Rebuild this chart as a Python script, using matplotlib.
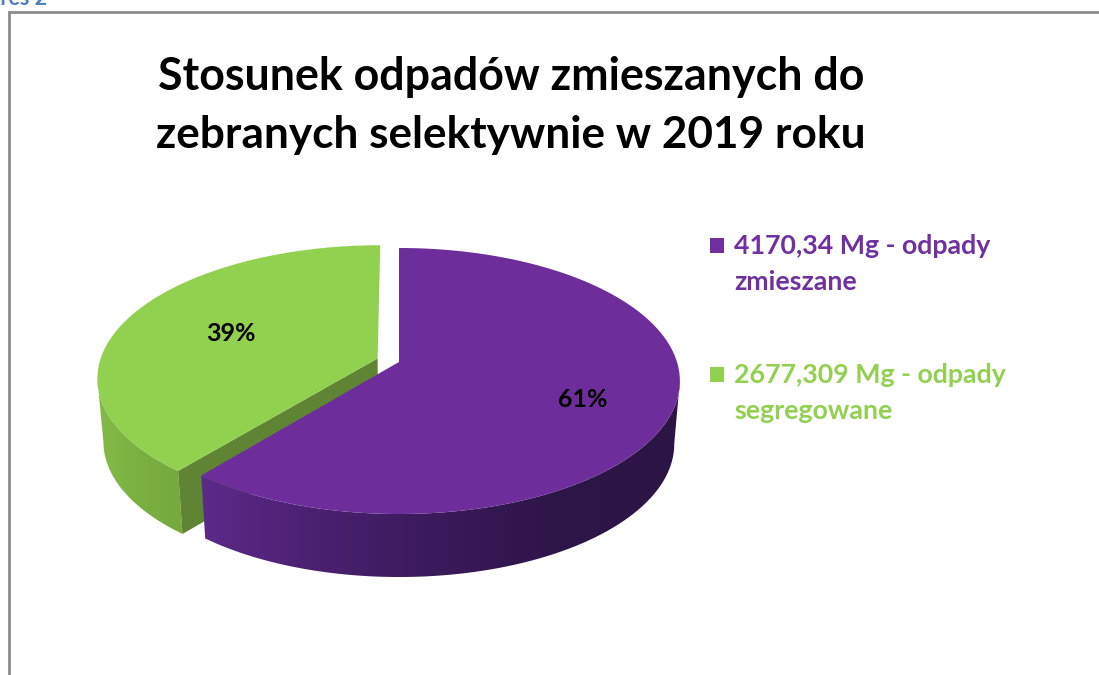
import numpy as np
import matplotlib
matplotlib.use('Agg')
import matplotlib.pyplot as plt
from matplotlib.colors import LinearSegmentedColormap
from matplotlib.patches import Polygon, Rectangle

# dane
categories = ['odpady zmieszane', 'odpady segregowane']
values = [4170.34, 2677.309]
pct_labels = ['61%', '39%']
legend_lines = [['4170,34 Mg - odpady', 'zmieszane'], ['2677,309 Mg - odpady', 'segregowane']]
title_lines = ['Stosunek odpadów zmieszanych do', 'zebranych selektywnie w 2019 roku']

top_colors = ['#6d2e9b', '#92d050']
legend_colors = ['#7030a0', '#92d050']
inner_colors = ['#4a2070', '#5f8433']
side_ramps = [['#5c2a88', '#4a2070', '#3a1a5a', '#2d1548', '#2c1545'], ['#84bb48', '#7ab040', '#76a93e']]

# rzut perspektywiczny kola na ekran (piksele)
CX, CY = 399, 362
A, B, K = 278, 130.3, 1 / 7
DEPTH = 63
SHRINK = 0.98
EXPLODE = 0.082
LABEL_R = [0.68, 0.58]
LABEL_DY = [7, 0]


def project(px, py):
    s = 1 / (1 - K * py)
    return CX + A * px * s, CY + B * py * s


def slice_outline(start, end, explode):
    mid = (start + end) / 2
    ox, oy = explode * np.sin(mid), -explode * np.cos(mid)
    t = np.linspace(start, end, 200)
    return project(ox + np.sin(t), oy - np.cos(t)), project(ox, oy)


def lower(x, y):
    return CX + (np.asarray(x) - CX) * SHRINK, np.asarray(y) + DEPTH


def wall(ax, x, y, ramp, zorder):
    bx, by = lower(x, y)
    xs = np.concatenate([x, bx[::-1]])
    ys = np.concatenate([y, by[::-1]])
    poly = Polygon(np.column_stack([xs, ys]), closed=True, fc='none', ec='none', zorder=zorder)
    ax.add_patch(poly)
    cmap = LinearSegmentedColormap.from_list('w', ramp)
    im = ax.imshow(np.linspace(0, 1, 256)[None, :], cmap=cmap, aspect='auto', zorder=zorder,
                   extent=[xs.min(), xs.max(), ys.max(), ys.min()])
    im.set_clip_path(poly)


fig = plt.figure(figsize=(10.99, 6.75), dpi=100)
ax = fig.add_axes([0, 0, 1, 1])

fractions = np.array(values) / sum(values)
edges = np.concatenate([[0], np.cumsum(fractions)]) * 2 * np.pi

# zielony wycinek (z tylu)
(gx, gy), (gax, gay) = slice_outline(edges[1], edges[2], EXPLODE)
i_left = np.argmin(gx)
wall(ax, gx[:i_left + 1], gy[:i_left + 1], side_ramps[1], 2)
ebx, eby = lower(np.array([gx[0], gax]), np.array([gy[0], gay]))
ax.add_patch(Polygon([[gx[0], gy[0]], [gax, gay], [ebx[1], eby[1]], [ebx[0], eby[0]]],
                     fc=inner_colors[1], ec='none', zorder=3))
ax.add_patch(Polygon(np.column_stack([np.r_[gx, gax], np.r_[gy, gay]]), fc=top_colors[1], ec='none', zorder=4))

# fioletowy wycinek
(px, py), (pax, pay) = slice_outline(edges[0], edges[1], 0)
i_right = np.argmax(px)
wall(ax, px[i_right:], py[i_right:], side_ramps[0], 5)
ax.add_patch(Polygon(np.column_stack([np.r_[px, pax], np.r_[py, pay]]), fc=top_colors[0], ec='none', zorder=6))

# etykiety procentowe
for i, lab in enumerate(pct_labels):
    mid = (edges[i] + edges[i + 1]) / 2
    ex = EXPLODE if i == 1 else 0
    lx, ly = project((ex + LABEL_R[i]) * np.sin(mid), -(ex + LABEL_R[i]) * np.cos(mid))
    ax.text(lx, ly + LABEL_DY[i], lab, fontsize=18, fontweight='bold', family='Lato', color='black',
            ha='center', va='center', zorder=8)

# tytul
for line, y, fs in zip(title_lines, [77, 135], [32.2, 31.8]):
    ax.text(511, y, line, fontsize=fs, fontweight='bold', family='Lato', color='black', ha='center', va='center')

# legenda
for i, y0 in enumerate([246, 375]):
    ax.add_patch(Rectangle((710, y0 - 8), 14, 15, fc=legend_colors[i], ec='none'))
    for j, line in enumerate(legend_lines[i]):
        ax.text(734, y0 + j * 36, line, fontsize=19.3, fontweight='bold', family='Lato',
                color=legend_colors[i], ha='left', va='center')

# ramka i fragment naglowka nad nia
ax.plot([9, 9, 1099], [675, 11.5, 11.5], color='#8c8c8c', lw=2, solid_joinstyle='miter')
ax.text(47, 5, 'Wykres 2', fontsize=15.5, fontweight='bold', family='Lato', color='#4f81bd', ha='right', va='baseline')

ax.set_xlim(0, 1099)
ax.set_ylim(675, 0)
ax.axis('off')
fig.savefig('out.png', dpi=100)
plt.close(fig)
